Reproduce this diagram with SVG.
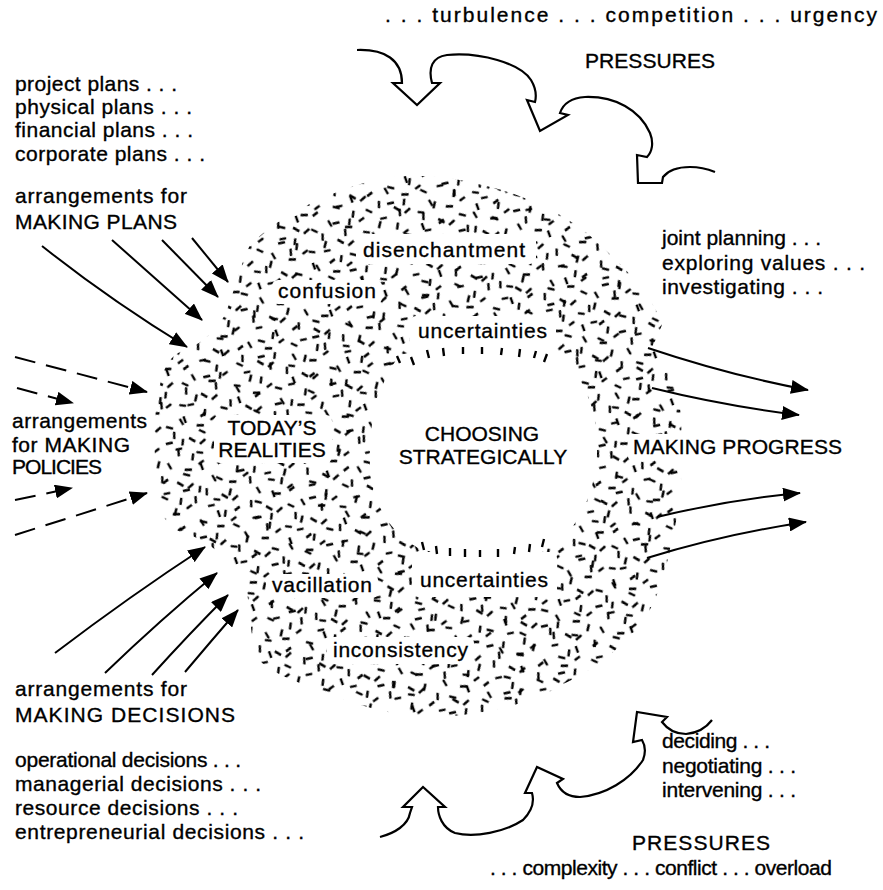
<svg xmlns="http://www.w3.org/2000/svg" width="883" height="890" viewBox="0 0 883 890">
<style>
.t{font-family:"Liberation Sans",Arial,Helvetica,sans-serif;font-size:21px;fill:#000;stroke:#000;stroke-width:0.35}
.c{text-anchor:middle}
.ar{fill:none;stroke:#000;stroke-width:2;marker-end:url(#ah)}
.da{fill:none;stroke:#000;stroke-width:2;stroke-dasharray:21 11;marker-end:url(#ah)}
.pr{fill:none;stroke:#000;stroke-width:2.2;stroke-linejoin:miter}
.dash{stroke:#000;stroke-width:2.4;fill:none}
</style>
<defs>
<marker id="ah" viewBox="0 0 18 14" refX="17" refY="7" markerWidth="18" markerHeight="14" markerUnits="userSpaceOnUse" orient="auto">
<path d="M0 0 L18 7 L0 14 Z" fill="#000"/>
</marker>
<pattern id="pa" patternUnits="userSpaceOnUse" width="46" height="46" patternTransform="rotate(15)">
<path class="dash" d="M4 4l2 7M20 6l7 2M36 3l-4 6M10 21l6-3M28 20l1 7M40 24l-4 5M6 36l5 5M24 38l7-2"/>
</pattern>
<pattern id="pb" patternUnits="userSpaceOnUse" width="58" height="50" patternTransform="rotate(-20)">
<path class="dash" d="M10 8l6 4M30 4l0 7M46 10l6-2M4 24l7 1M22 25l-3 6M40 22l5 5M12 40l2-7M30 42l6 3M50 38l-4 6"/>
</pattern>
<mask id="ring" maskUnits="userSpaceOnUse" x="0" y="0" width="883" height="890">
<path fill="#fff" d="M387 177C420 174 450 177 473 183C520 192 570 215 600 245C630 272 655 300 662 325L652 348C670 365 680 390 681 420C683 460 682 500 673 535C668 560 660 600 640 625C620 650 590 672 563 684C530 705 480 716 430 717C390 716 350 703 320 690C290 680 265 670 255 655C250 630 250 600 245 585C235 565 215 545 190 535C170 530 160 520 157 490C155 460 152 430 158 395C162 375 165 360 180 352C200 345 212 335 225 315C235 290 240 265 250 245C280 215 330 190 387 177Z"/>
<path fill="#000" d="M400 355C440 344 520 344 555 352C575 365 596 400 597 440C599 485 582 525 552 547C515 560 450 560 418 548C390 532 372 505 370 465C368 420 380 380 400 355Z"/>
<rect fill="#000" x="410" y="316" width="146" height="36" rx="6"/>
<rect fill="#000" x="412" y="552" width="145" height="45" rx="6"/>
<rect fill="#000" x="356" y="234" width="180" height="30" rx="6"/>
<rect fill="#000" x="272" y="280" width="110" height="24" rx="6"/>
<rect fill="#000" x="214" y="415" width="118" height="48" rx="6"/>
<rect fill="#000" x="266" y="574" width="112" height="24" rx="6"/>
<rect fill="#000" x="327" y="637" width="147" height="27" rx="6"/>
<rect fill="#000" x="628" y="434" width="80" height="26" rx="4"/>
</mask>
</defs>
<rect width="883" height="890" fill="#fff"/>

<g id="texture">
<rect width="883" height="890" fill="url(#pa)" mask="url(#ring)"/>
<rect width="883" height="890" fill="url(#pb)" mask="url(#ring)"/>
<path class="dash" d="M397 356L400 363M411 357L414 365M427 350L429 358M443 348L444 356M463 347L463 354M482 347L482 354M502 348L501 355M520 349L519 357M536 351L534 358M547 354L544 362"/>
<path class="dash" d="M422 542L424 550M436 546L437 554M450 548L450 556M465 549L465 557M480 550L480 557M498 549L498 557M515 547L514 554M530 544L529 552M544 539L542 547"/>
</g>

<g id="pressures-top">
<path class="pr" d="M357 50C385 49 402 60 402 83L393 83L417 105L440 83L432 83C428 68 432 57 447 55C480 52 520 63 531 80C537 90 536 98 535 102L527 100L540 131L568 115L560 113C563 104 570 98 585 97C615 96 640 110 650 133C654 143 652 152 647 157L637 155L638 183L662 183L663 177C667 172 675 167 690 167C700 167 710 170 715 172"/>
<text class="t" x="385" y="22" textLength="492">. . . turbulence . . . competition . . . urgency</text>
<text class="t" x="585" y="68" textLength="130">PRESSURES</text>
</g>

<g id="pressures-bottom">
<path class="pr" d="M380 837C395 833 408 825 410 813L412 807L403 807L423 787L445 807L438 807C438 815 442 828 455 833C475 838 505 832 523 820C533 810 534 800 532 793L525 793L537 767L563 779L557 783C560 790 566 797 580 797C605 795 630 780 643 760C646 752 645 745 642 740L633 742L637 712L667 717L662 722C668 730 676 734 686 734C697 733 706 728 712 720"/>
<text class="t" x="632" y="850" textLength="138">PRESSURES</text>
<text class="t" x="490" y="875" textLength="342">. . . complexity . . . conflict . . . overload</text>
</g>

<g id="plans">
<text class="t" x="15" y="91" textLength="162">project plans . . .</text>
<text class="t" x="15" y="114" textLength="177">physical plans . . .</text>
<text class="t" x="15" y="137" textLength="178">financial plans . . .</text>
<text class="t" x="15" y="161" textLength="190">corporate plans . . .</text>
<text class="t" x="15" y="203" textLength="172">arrangements for</text>
<text class="t" x="15" y="229" textLength="162">MAKING PLANS</text>
</g>

<g id="policies">
<text class="t" x="12" y="428" textLength="135">arrangements</text>
<text class="t" x="12" y="452" textLength="118">for MAKING</text>
<text class="t" x="12" y="474" textLength="90">POLICIES</text>
</g>

<g id="decisions">
<text class="t" x="15" y="696" textLength="172">arrangements for</text>
<text class="t" x="15" y="722" textLength="220">MAKING DECISIONS</text>
<text class="t" x="15" y="767" textLength="226">operational decisions . . .</text>
<text class="t" x="15" y="791" textLength="246">managerial decisions . . .</text>
<text class="t" x="15" y="815" textLength="223">resource decisions . . .</text>
<text class="t" x="15" y="839" textLength="289">entrepreneurial decisions . . .</text>
</g>

<g id="progress">
<text class="t" x="662" y="245" textLength="159">joint planning . . .</text>
<text class="t" x="662" y="270" textLength="203">exploring values . . .</text>
<text class="t" x="662" y="294" textLength="161">investigating . . .</text>
<text class="t" x="633" y="454" textLength="209">MAKING PROGRESS</text>
<text class="t" x="662" y="748" textLength="108">deciding . . .</text>
<text class="t" x="662" y="773" textLength="134">negotiating . . .</text>
<text class="t" x="662" y="797" textLength="134">intervening . . .</text>
</g>

<g id="realities">
<text class="t c" x="272" y="435">TODAY’S</text>
<text class="t c" x="272" y="457">REALITIES</text>
</g>

<g id="choosing">
<text class="t c" x="482" y="441">CHOOSING</text>
<text class="t c" x="483" y="464">STRATEGICALLY</text>
</g>

<g id="labels">
<text class="t" x="363" y="257" textLength="162">disenchantment</text>
<text class="t" x="278" y="298" textLength="98">confusion</text>
<text class="t" x="418" y="338" textLength="129">uncertainties</text>
<text class="t" x="272" y="592" textLength="100">vacillation</text>
<text class="t" x="420" y="587" textLength="128">uncertainties</text>
<text class="t" x="333" y="657" textLength="135">inconsistency</text>
</g>

<g id="connectors">
<path class="ar" d="M42 246Q110 300 187 347"/>
<path class="ar" d="M112 240L202 320"/>
<path class="ar" d="M162 240L218 297"/>
<path class="ar" d="M192 238L228 282"/>
<path class="da" d="M15 357L147 392"/>
<path class="da" d="M17 388L73 403"/>
<path class="da" d="M15 500L72 488"/>
<path class="da" d="M15 535L147 493"/>
<path class="ar" d="M55 653Q130 596 205 547"/>
<path class="ar" d="M105 673Q160 620 217 573"/>
<path class="ar" d="M152 675Q190 633 228 595"/>
<path class="ar" d="M185 672Q212 640 238 610"/>
<path class="ar" d="M648 348Q728 375 808 390"/>
<path class="ar" d="M652 388Q725 406 799 415"/>
<path class="ar" d="M657 517Q727 500 800 493"/>
<path class="ar" d="M647 558Q725 534 806 522"/>
</g>
</svg>
